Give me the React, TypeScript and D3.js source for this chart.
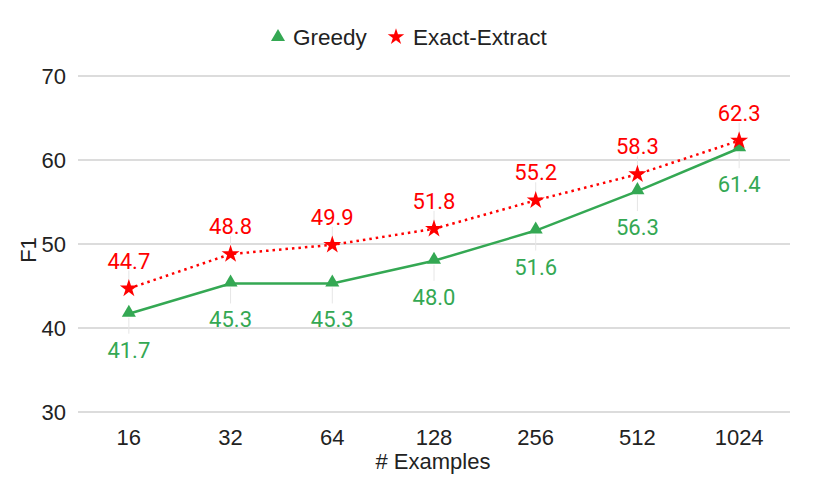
import React, { useRef, useEffect } from "react";
import * as d3 from "d3";

const categories = ["16", "32", "64", "128", "256", "512", "1024"];
const greedy = [41.7, 45.3, 45.3, 48.0, 51.6, 56.3, 61.4];
const exactExtract = [44.7, 48.8, 49.9, 51.8, 55.2, 58.3, 62.3];
const yTicks = [30, 40, 50, 60, 70];

const GREEN = "#34a853";
const RED = "#ff0000";
const AXIS_FONT = "'Liberation Sans', Arial, sans-serif";
const LABEL_FONT = "Roboto, sans-serif";

export default function App() {
  const ref = useRef<SVGSVGElement>(null);

  useEffect(() => {
    if (!ref.current) return;
    const svg = d3.select(ref.current);
    svg.selectAll("*").remove();

    const x = d3.scaleBand().domain(categories).range([78, 790]);
    const y = d3.scaleLinear().domain([30, 70]).range([412, 76]);
    const cx = (c: string) => x(c)! + x.bandwidth() / 2;

    // grid
    svg.append("g").selectAll("line").data(yTicks).enter().append("line")
      .attr("x1", 78).attr("x2", 790)
      .attr("y1", d => y(d)).attr("y2", d => y(d))
      .attr("stroke", "#d0d0d0").attr("stroke-width", 1.3);

    svg.append("g").selectAll("text").data(yTicks).enter().append("text")
      .attr("x", 66).attr("y", d => y(d) + 8)
      .attr("text-anchor", "end").style("font-family", AXIS_FONT).style("font-size", "22px")
      .attr("fill", "#222").text(d => d);

    svg.append("g").selectAll("text").data(categories).enter().append("text")
      .attr("x", d => cx(d)).attr("y", 445)
      .attr("text-anchor", "middle").style("font-family", AXIS_FONT).style("font-size", "22px")
      .attr("fill", "#222").text(d => d);

    svg.append("text").attr("x", 433).attr("y", 469).attr("text-anchor", "middle")
      .style("font-family", AXIS_FONT).style("font-size", "22px").attr("fill", "#222").text("# Examples");

    svg.append("text").attr("transform", "translate(36,250) rotate(-90)").attr("text-anchor", "middle")
      .style("font-family", AXIS_FONT).style("font-size", "22px").attr("fill", "#222").text("F1");

    // leader lines
    const lead = svg.append("g");
    categories.forEach((c, i) => {
      lead.append("line").attr("x1", cx(c)).attr("x2", cx(c))
        .attr("y1", y(greedy[i]) + 4).attr("y2", y(greedy[i]) + 20)
        .attr("stroke", "#e6e6e6").attr("stroke-width", 1);
      lead.append("line").attr("x1", cx(c)).attr("x2", cx(c))
        .attr("y1", y(exactExtract[i]) - 4).attr("y2", y(exactExtract[i]) - 18)
        .attr("stroke", "#e6e6e6").attr("stroke-width", 1);
    });

    const line = d3.line<number>().x((_, i) => cx(categories[i])).y(d => y(d));

    svg.append("path").attr("d", line(greedy)!).attr("fill", "none")
      .attr("stroke", GREEN).attr("stroke-width", 2.5);
    svg.append("path").attr("d", line(exactExtract)!).attr("fill", "none")
      .attr("stroke", RED).attr("stroke-width", 2.5).attr("stroke-dasharray", "2.5,4");

    const tri = d3.symbol().type(d3.symbolTriangle).size(85);
    const star = d3.symbol().type(d3.symbolStar).size(100);

    svg.append("g").selectAll("path").data(greedy).enter().append("path")
      .attr("d", tri()!).attr("fill", GREEN)
      .attr("transform", (d, i) => `translate(${cx(categories[i])},${y(d) - 1})`);
    svg.append("g").selectAll("path").data(exactExtract).enter().append("path")
      .attr("d", star()!).attr("fill", RED)
      .attr("transform", (d, i) => `translate(${cx(categories[i])},${y(d)})`);

    svg.append("g").selectAll("text").data(greedy).enter().append("text")
      .attr("x", (_, i) => cx(categories[i])).attr("y", d => y(d) + 44)
      .attr("text-anchor", "middle").style("font-family", LABEL_FONT).style("font-size", "22px")
      .attr("fill", GREEN).text(d => d.toFixed(1));
    svg.append("g").selectAll("text").data(exactExtract).enter().append("text")
      .attr("x", (_, i) => cx(categories[i])).attr("y", d => y(d) - 20)
      .attr("text-anchor", "middle").style("font-family", LABEL_FONT).style("font-size", "22px")
      .attr("fill", RED).text(d => d.toFixed(1));

    // legend
    const lg = svg.append("g");
    lg.append("path").attr("d", tri()!).attr("fill", GREEN).attr("transform", "translate(278,37)");
    lg.append("text").attr("x", 293).attr("y", 45).style("font-family", AXIS_FONT).style("font-size", "22.5px")
      .attr("fill", "#222").text("Greedy");
    lg.append("path").attr("d", d3.symbol().type(d3.symbolStar).size(85)()!).attr("fill", RED).attr("transform", "translate(396,37)");
    lg.append("text").attr("x", 413).attr("y", 45).style("font-family", AXIS_FONT).style("font-size", "22.5px")
      .attr("fill", "#222").text("Exact-Extract");
  }, []);

  return (
    <svg ref={ref} width={830} height={483} style={{ position: "absolute", left: 0, top: 0, background: "#fff" }} />
  );
}
